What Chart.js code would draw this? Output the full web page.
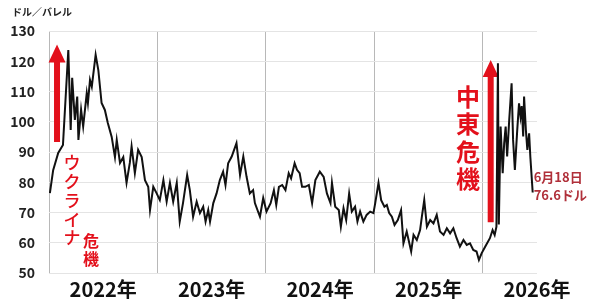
<!DOCTYPE html>
<html>
<head>
<meta charset="utf-8">
<script src="https://cdn.jsdelivr.net/npm/chart.js@4.4.1/dist/chart.umd.min.js"></script>
<style>
  html, body { margin: 0; padding: 0; background: #fff; }
  #wrap { width: 600px; height: 301px; }
</style>
</head>
<body>
<div id="wrap"><canvas id="oilChart"></canvas></div>
<script>
// WTI price, dollars per barrel
const dates = [
  '2022-01-04','2022-01-15','2022-02-01','2022-02-17','2022-03-07','2022-03-15','2022-03-20','2022-03-29',
  '2022-04-06','2022-04-10','2022-04-19','2022-04-26','2022-05-08','2022-05-12','2022-05-19','2022-05-25',
  '2022-06-07','2022-06-16','2022-06-27','2022-07-08','2022-07-18','2022-07-31','2022-08-11','2022-08-17',
  '2022-08-28','2022-09-08','2022-09-19','2022-09-30','2022-10-06','2022-10-17','2022-10-28','2022-11-09',
  '2022-11-20','2022-12-01','2022-12-07','2022-12-18','2022-12-29',
  '2023-01-09','2023-01-21','2023-02-01','2023-02-12','2023-02-23','2023-03-07','2023-03-17','2023-03-28',
  '2023-04-11','2023-04-20','2023-05-01','2023-05-13','2023-05-24','2023-06-04','2023-06-12','2023-06-21',
  '2023-06-27','2023-07-08','2023-07-19','2023-07-30','2023-08-10','2023-08-18','2023-08-27','2023-09-08',
  '2023-09-16','2023-09-24','2023-10-06','2023-10-17','2023-10-28','2023-11-08','2023-11-19','2023-11-25',
  '2023-12-12','2023-12-23',
  '2024-01-03','2024-01-17','2024-01-28','2024-02-05','2024-02-14','2024-02-25','2024-03-07','2024-03-18',
  '2024-03-26','2024-04-07','2024-04-15','2024-04-24','2024-05-02','2024-05-13','2024-05-25','2024-06-05',
  '2024-06-16','2024-07-01','2024-07-14','2024-07-25','2024-08-06','2024-08-11','2024-08-22','2024-09-03',
  '2024-09-10','2024-09-19','2024-09-28','2024-10-08','2024-10-17','2024-10-28','2024-11-05','2024-11-14',
  '2024-11-25','2024-12-06','2024-12-18','2024-12-29',
  '2025-01-04','2025-01-15','2025-01-24','2025-02-04','2025-02-12','2025-02-20','2025-03-01','2025-03-10',
  '2025-03-21','2025-04-01','2025-04-09','2025-04-20','2025-05-05','2025-05-13','2025-05-24','2025-06-04',
  '2025-06-10','2025-06-18','2025-06-27','2025-07-08','2025-07-19','2025-07-30','2025-08-10','2025-08-22',
  '2025-09-02','2025-09-13','2025-09-24','2025-10-05','2025-10-16','2025-10-28','2025-11-08','2025-11-19',
  '2025-11-30','2025-12-11','2025-12-19','2025-12-28',
  '2026-01-09','2026-01-25','2026-02-03','2026-02-10','2026-02-16','2026-02-21','2026-02-24','2026-03-02',
  '2026-03-09','2026-03-14','2026-03-19','2026-03-24','2026-03-31','2026-04-08','2026-04-13','2026-04-19',
  '2026-04-27','2026-05-03','2026-05-08','2026-05-12','2026-05-17','2026-05-20','2026-05-26','2026-05-31',
  '2026-06-06','2026-06-10','2026-06-18'
];
const prices = [
  76.4, 84.0, 89.7, 92.3, 123.7, 97.3, 114.5, 100.6,
  108.3, 94.0, 104.0, 98.4, 109.4, 106.2, 113.8, 111.6,
  122.1, 117.1, 106.2, 103.9, 99.6, 95.0, 88.3, 94.0,
  86.4, 88.3, 79.8, 86.4, 91.8, 83.0, 90.7, 88.3,
  80.7, 78.5, 70.8, 78.5, 76.4,
  74.1, 80.7, 73.6, 79.8, 73.6, 79.8, 67.0, 73.1,
  82.4, 77.4, 68.6, 73.6, 69.8, 71.9, 67.0, 70.8,
  67.0, 73.1, 76.3, 80.7, 83.5, 79.1, 86.3, 88.5,
  90.7, 92.9, 82.4, 88.5, 81.8, 76.3, 77.4, 73.1,
  68.6, 74.8,
  70.3, 73.1, 77.4, 72.5, 78.5, 79.1, 77.4, 83.0,
  81.3, 86.3, 84.1, 83.0, 78.5, 78.5, 79.1, 73.1,
  80.7, 83.5, 81.8, 76.3, 73.1, 79.8, 71.9, 70.8,
  65.3, 71.4, 67.5, 76.3, 70.3, 71.9, 67.0, 70.3,
  67.0, 69.2, 70.3, 69.8,
  73.1, 79.8, 74.1, 71.9, 72.5, 69.8, 68.6, 65.9,
  67.5, 70.8, 59.8, 63.7, 57.1, 62.6, 60.9, 64.2,
  68.6, 74.1, 65.3, 67.5, 66.4, 69.2, 63.7, 62.6,
  64.8, 63.1, 64.8, 61.5, 58.7, 60.9, 59.3, 59.8,
  57.6, 57.1, 54.3, 56.5,
  58.7, 61.5, 64.2, 62.6, 65.3, 119.3, 66.0, 98.4,
  83.0, 92.9, 98.4, 88.5, 100.6, 112.7, 94.0, 84.1,
  97.3, 106.1, 101.7, 105.2, 95.1, 108.3, 97.3, 90.7,
  96.2, 88.5, 76.6
];
const yearLabels = ['2022年', '2023年', '2024年', '2025年', '2026年'];
const yTicks = [50, 60, 70, 80, 90, 100, 110, 120, 130];

function toYear(s) {
  const [y, m, d] = s.split('-').map(Number);
  const start = Date.UTC(y, 0, 1);
  const end = Date.UTC(y + 1, 0, 1);
  return y + (Date.UTC(y, m - 1, d) - start) / (end - start);
}

const points = dates.map((d, i) => ({ x: toYear(d), y: prices[i] }));
const JP = '"Noto Sans CJK JP", "Noto Sans", sans-serif';
const RED = '#e3101b';

function arrow(ctx, x, yBottom, yTip, shaftW, headW, headL) {
  ctx.beginPath();
  ctx.moveTo(x - shaftW / 2, yBottom);
  ctx.lineTo(x - shaftW / 2, yTip + headL);
  ctx.lineTo(x - headW / 2, yTip + headL);
  ctx.lineTo(x, yTip);
  ctx.lineTo(x + headW / 2, yTip + headL);
  ctx.lineTo(x + shaftW / 2, yTip + headL);
  ctx.lineTo(x + shaftW / 2, yBottom);
  ctx.closePath();
  ctx.fill();
}

function verticalText(ctx, text, x, yStart, step) {
  [...text].forEach((ch, i) => ctx.fillText(ch, x, yStart + i * step));
}

const arrowsPlugin = {
  id: 'arrows',
  beforeDatasetsDraw(chart) {
    const ctx = chart.ctx, xs = chart.scales.x, ys = chart.scales.y;
    ctx.save();
    ctx.fillStyle = RED;
    arrow(ctx, xs.getPixelForValue(2022.074), ys.getPixelForValue(93.3), ys.getPixelForValue(125.5), 6, 17, 18);
    arrow(ctx, xs.getPixelForValue(2026.073), ys.getPixelForValue(66.8), ys.getPixelForValue(120.4), 6, 16, 17);
    ctx.restore();
  },
  afterDraw(chart) {
    const ctx = chart.ctx, xs = chart.scales.x, ys = chart.scales.y;
    ctx.save();
    ctx.textAlign = 'left';
    ctx.textBaseline = 'middle';
    ctx.fillStyle = '#222';
    ctx.font = 'bold 10px ' + JP;
    ctx.fillText('ドル／バレル', 12, 12);

    ctx.textAlign = 'center';
    ctx.fillStyle = RED;
    ctx.font = '500 17px ' + JP;
    verticalText(ctx, 'ウクライナ', 72, 163, 18.7);
    ctx.font = 'bold 16px ' + JP;
    verticalText(ctx, '危機', 91, 241, 18);
    ctx.font = 'bold 24px ' + JP;
    verticalText(ctx, '中東危機', 468, 97, 27.3);

    const last = points[points.length - 1];
    const lx = xs.getPixelForValue(last.x) + 1;
    const ly = ys.getPixelForValue(last.y);
    ctx.textAlign = 'left';
    ctx.fillStyle = '#b0303a';
    ctx.font = 'bold 13px ' + JP;
    ctx.fillText('6月18日', lx, ly - 15);
    ctx.fillText('76.6ドル', lx, ly + 3);
    ctx.restore();
  }
};

new Chart(document.getElementById('oilChart'), {
  type: 'line',
  data: {
    datasets: [{
      data: points,
      borderColor: '#111',
      borderWidth: 2,
      pointRadius: 0,
      tension: 0
    }]
  },
  options: {
    responsive: true,
    maintainAspectRatio: false,
    animation: false,
    layout: { padding: { top: 31, right: 63, left: 0, bottom: 0 } },
    plugins: { legend: { display: false }, tooltip: { enabled: false } },
    scales: {
      x: {
        type: 'linear',
        min: 2022,
        max: 2026.5,
        afterBuildTicks: s => {
          const t = [];
          for (let v = 2022; v <= 2026.5; v += 0.5) t.push({ value: v });
          s.ticks = t;
        },
        afterFit: s => { s.height = 28; },
        border: { display: false },
        grid: {
          drawTicks: false,
          lineWidth: 1,
          color: c => (c.tick && c.tick.value % 1 === 0 && c.tick.value < 2026.5) ? '#b8b8b8' : 'rgba(0,0,0,0)'
        },
        ticks: {
          autoSkip: false,
          maxRotation: 0,
          padding: 4,
          color: '#111',
          font: { family: JP, size: 20, weight: 'bold' },
          callback: v => (v % 1 ? yearLabels[Math.floor(v) - 2022] : '')
        }
      },
      y: {
        min: 50,
        max: 130,
        afterBuildTicks: s => { s.ticks = yTicks.map(v => ({ value: v })); },
        afterFit: s => { s.width = 49; },
        border: { display: false },
        grid: { drawTicks: false, color: '#e4e4e4', lineWidth: 1 },
        ticks: {
          padding: 14,
          color: '#222',
          font: { family: JP, size: 14, weight: 'bold' }
        }
      }
    }
  },
  plugins: [arrowsPlugin]
});
</script>
</body>
</html>
